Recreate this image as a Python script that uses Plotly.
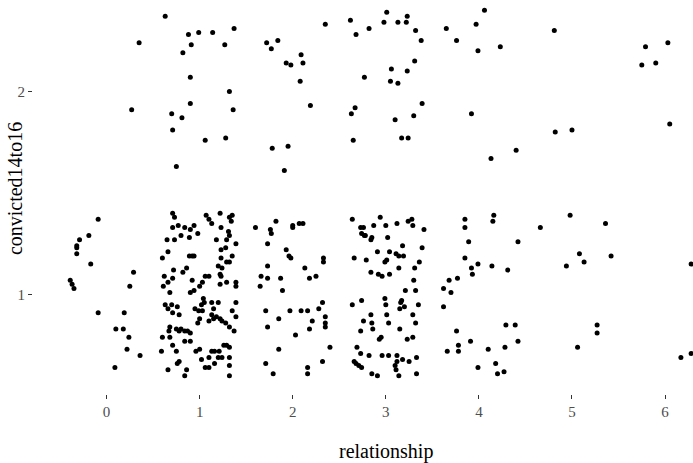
import plotly.graph_objects as go

# (relationship + jitter, convicted14to16 + jitter)
convicted2_points = [
    (0.63, 2.37), (0.35, 2.24), (0.88, 2.28), (0.99, 2.29), (1.14, 2.29), (1.37, 2.31), (0.91, 2.23),
    (1.27, 2.23), (0.82, 2.19), (0.90, 2.07), (1.32, 2.00), (0.27, 1.91), (0.90, 1.94), (1.36, 1.91),
    (0.70, 1.89), (0.81, 1.87), (0.71, 1.81), (1.06, 1.76), (1.28, 1.77), (0.75, 1.63),
    (1.72, 2.24), (1.77, 2.21), (1.84, 2.25), (2.35, 2.33), (2.62, 2.35), (2.68, 2.28), (2.82, 2.31),
    (3.01, 2.39), (2.98, 2.34), (3.13, 2.34), (3.22, 2.34), (3.23, 2.37), (3.32, 2.30), (3.38, 2.25),
    (3.65, 2.31), (3.97, 2.33), (3.76, 2.25), (3.99, 2.20), (2.09, 2.18), (1.93, 2.14), (1.98, 2.13),
    (2.11, 2.14), (2.08, 2.05), (2.77, 2.07), (3.06, 2.11), (3.23, 2.10), (3.31, 2.15), (3.05, 2.05),
    (3.13, 2.04), (2.19, 1.93), (2.67, 1.92), (2.63, 1.89), (3.39, 1.94), (3.30, 1.88), (3.10, 1.86),
    (3.92, 1.89), (1.78, 1.72), (1.95, 1.73), (2.65, 1.76), (3.17, 1.77), (3.24, 1.77), (1.91, 1.61),
    (4.06, 2.40), (4.81, 2.30), (4.23, 2.22), (5.79, 2.22), (6.03, 2.24), (5.75, 2.13), (5.90, 2.14),
    (6.05, 1.84), (4.82, 1.80), (5.00, 1.81), (4.40, 1.71), (4.13, 1.67),
]

rel0_points = [
    (-0.09, 1.37), (-0.19, 1.29), (-0.29, 1.27), (-0.32, 1.24), (-0.32, 1.23), (-0.32, 1.20),
    (-0.17, 1.15), (0.29, 1.11), (0.25, 1.04), (-0.39, 1.07), (-0.37, 1.05), (-0.35, 1.03),
    (-0.09, 0.91), (0.19, 0.91), (0.10, 0.83), (0.18, 0.83), (0.24, 0.79), (0.22, 0.73),
    (0.36, 0.70), (0.09, 0.64),
]

rel1_points = [
    (0.71, 1.40), (0.73, 1.38), (1.07, 1.39), (1.10, 1.37), (1.13, 1.35), (1.22, 1.40), (1.32, 1.38),
    (1.35, 1.39), (1.34, 1.36), (0.77, 1.34), (0.84, 1.33), (0.71, 1.33), (0.90, 1.32), (0.94, 1.34),
    (0.89, 1.28), (0.80, 1.29), (0.98, 1.30), (1.23, 1.33), (1.31, 1.31), (1.32, 1.29), (1.29, 1.27),
    (1.39, 1.25), (0.65, 1.27), (0.73, 1.27), (1.18, 1.27), (0.66, 1.21), (0.60, 1.18), (0.89, 1.19),
    (0.92, 1.19), (0.94, 1.19), (1.28, 1.23), (1.23, 1.22), (1.23, 1.18), (1.35, 1.19), (1.29, 1.16),
    (1.32, 1.16), (1.20, 1.14), (1.24, 1.13), (0.86, 1.13), (0.82, 1.11), (0.72, 1.12), (0.62, 1.09),
    (0.71, 1.08), (0.66, 1.06), (0.61, 1.04), (0.68, 1.01), (0.92, 1.07), (1.06, 1.09), (1.10, 1.09),
    (1.03, 1.06), (1.00, 1.04), (0.94, 1.02), (0.90, 1.01), (1.22, 1.10), (1.23, 1.09), (1.22, 1.05),
    (1.29, 1.06), (1.39, 1.06), (1.39, 1.04), (1.04, 0.98), (1.05, 0.96), (1.02, 0.95), (1.13, 0.96),
    (1.20, 0.96), (0.63, 0.95), (0.70, 0.95), (0.66, 0.93), (0.71, 0.91), (0.78, 0.90), (0.76, 0.94),
    (0.95, 0.93), (0.99, 0.92), (1.03, 0.92), (1.15, 0.93), (1.13, 0.90), (1.35, 0.92), (1.39, 0.96),
    (1.39, 0.89), (1.00, 0.88), (0.98, 0.86), (1.10, 0.87), (1.18, 0.89), (1.15, 0.88), (1.22, 0.88),
    (1.24, 0.87), (1.28, 0.86), (1.32, 0.84), (1.37, 0.82), (0.68, 0.84), (0.67, 0.82), (0.75, 0.83),
    (0.78, 0.82), (0.80, 0.83), (0.87, 0.82), (0.90, 0.81), (0.84, 0.82), (0.60, 0.79), (0.68, 0.79),
    (0.84, 0.77), (0.90, 0.77), (0.71, 0.75), (0.75, 0.72), (0.59, 0.72), (1.00, 0.73), (0.96, 0.72),
    (1.13, 0.72), (1.16, 0.72), (1.21, 0.72), (1.26, 0.75), (1.29, 0.75), (1.32, 0.74), (1.10, 0.69),
    (1.20, 0.69), (1.24, 0.69), (1.32, 0.69), (1.02, 0.68), (0.78, 0.67), (0.76, 0.66), (1.16, 0.66),
    (1.32, 0.65), (0.66, 0.63), (0.86, 0.63), (0.84, 0.60), (1.06, 0.64), (1.10, 0.64), (1.32, 0.60),
]

rel2_points = [
    (1.60, 1.33), (1.82, 1.36), (1.76, 1.32), (1.77, 1.30), (2.00, 1.34), (2.00, 1.33), (2.07, 1.35),
    (2.11, 1.35), (1.73, 1.25), (1.93, 1.22), (1.96, 1.19), (1.98, 1.18), (2.33, 1.18), (2.33, 1.16),
    (1.73, 1.14), (2.13, 1.13), (1.66, 1.09), (1.73, 1.08), (1.87, 1.08), (2.18, 1.08), (2.25, 1.09),
    (1.65, 1.04), (1.89, 1.02), (2.32, 0.96), (1.71, 0.92), (1.97, 0.92), (2.09, 0.92), (2.16, 0.92),
    (2.28, 0.93), (1.85, 0.88), (2.35, 0.89), (2.21, 0.87), (2.35, 0.86), (2.35, 0.84), (1.73, 0.84),
    (2.18, 0.83), (2.03, 0.80), (2.40, 0.74), (1.85, 0.73), (2.32, 0.67), (1.71, 0.66), (2.16, 0.64),
    (1.79, 0.61), (2.16, 0.61),
]

rel3_points = [
    (2.64, 1.37), (2.73, 1.33), (2.76, 1.33), (2.87, 1.34), (2.94, 1.38), (3.00, 1.34), (3.12, 1.35),
    (3.24, 1.36), (3.28, 1.37), (3.29, 1.34), (3.41, 1.32), (2.74, 1.30), (2.77, 1.29), (2.78, 1.29),
    (2.85, 1.28), (2.84, 1.27), (3.02, 1.28), (3.18, 1.24), (3.39, 1.23), (2.91, 1.21), (3.04, 1.21),
    (3.11, 1.20), (3.14, 1.19), (3.19, 1.19), (2.66, 1.18), (2.79, 1.17), (3.01, 1.17), (2.99, 1.16),
    (3.36, 1.16), (3.14, 1.13), (3.31, 1.13), (2.84, 1.11), (2.92, 1.10), (2.96, 1.09), (3.04, 1.10),
    (3.30, 1.07), (3.32, 1.02), (3.21, 1.02), (2.64, 0.95), (2.74, 0.97), (2.99, 0.98), (3.00, 0.95),
    (3.17, 0.97), (3.16, 0.96), (3.20, 0.94), (3.15, 0.93), (3.35, 0.95), (3.29, 0.90), (2.84, 0.90),
    (3.01, 0.90), (2.76, 0.87), (2.85, 0.86), (2.86, 0.83), (3.03, 0.86), (3.32, 0.86), (2.73, 0.82),
    (3.15, 0.83), (2.95, 0.79), (2.93, 0.78), (3.29, 0.79), (3.23, 0.78), (2.69, 0.74), (2.73, 0.71),
    (2.82, 0.70), (2.96, 0.70), (3.03, 0.70), (3.12, 0.70), (3.18, 0.68), (3.25, 0.67), (3.33, 0.69),
    (3.12, 0.67), (3.10, 0.65), (2.66, 0.67), (2.68, 0.66), (2.71, 0.65), (2.74, 0.64), (2.85, 0.61),
    (2.91, 0.60), (3.11, 0.63), (3.14, 0.60), (3.33, 0.61),
]

rel4_points = [
    (4.16, 1.39), (4.15, 1.36), (3.85, 1.37), (3.85, 1.33), (4.66, 1.33), (3.89, 1.26), (4.42, 1.26),
    (3.85, 1.18), (3.99, 1.15), (3.92, 1.13), (4.14, 1.14), (4.31, 1.12), (3.93, 1.10), (3.68, 1.07),
    (3.77, 1.08), (3.62, 1.03), (3.70, 1.01), (3.62, 0.94), (4.29, 0.85), (4.39, 0.85), (3.76, 0.82),
    (3.91, 0.77), (4.42, 0.77), (3.78, 0.75), (3.78, 0.72), (3.66, 0.72), (4.10, 0.73), (4.28, 0.74),
    (4.18, 0.66), (3.99, 0.64), (4.20, 0.61), (4.27, 0.62),
]

rel5_6_points = [
    (4.98, 1.39), (5.36, 1.35), (5.08, 1.20), (5.13, 1.16), (4.94, 1.14), (5.42, 1.19), (6.28, 1.15),
    (5.27, 0.85), (5.27, 0.81), (5.06, 0.74), (6.17, 0.69), (6.28, 0.71),
]

x_ticks = [0, 1, 2, 3, 4, 5, 6]
y_ticks = [1, 2]

all_points = (convicted2_points + rel0_points + rel1_points + rel2_points
              + rel3_points + rel4_points + rel5_6_points)
relationship = [p[0] for p in all_points]
convicted = [p[1] for p in all_points]

fig = go.Figure(go.Scatter(
    x=relationship, y=convicted, mode="markers",
    marker=dict(color="black", size=5, line=dict(width=0)),
    hoverinfo="skip",
))

font_family = "Liberation Serif, Times New Roman, serif"
axis_common = dict(
    showgrid=False, zeroline=False, showline=False,
    ticks="outside", ticklen=4, tickwidth=1, tickcolor="#333333",
    tickfont=dict(family=font_family, size=15, color="#4d4d4d"),
)

fig.update_layout(
    width=693, height=463,
    margin=dict(l=33, r=0, t=0, b=69),
    plot_bgcolor="white", paper_bgcolor="white",
    showlegend=False,
    xaxis=dict(range=[-0.79, 6.30], tickvals=x_ticks, ticktext=[str(v) for v in x_ticks],
               automargin=False, **axis_common),
    yaxis=dict(range=[0.51, 2.45], tickvals=y_ticks, ticktext=[str(v) for v in y_ticks],
               automargin=False, **axis_common),
    annotations=[
        dict(text="relationship", xref="paper", yref="paper", x=0.535, y=0,
             xanchor="center", yanchor="top", yshift=-44, showarrow=False,
             font=dict(family=font_family, size=20, color="black")),
        dict(text="convicted14to16", xref="paper", yref="paper", x=0, y=0.52,
             xanchor="center", yanchor="middle", xshift=-18, textangle=-90, showarrow=False,
             font=dict(family=font_family, size=20, color="black")),
    ],
)

fig.write_html("out.html", config={"displayModeBar": False, "staticPlot": True})

# remove the browser's default page margin so the figure sits at the top-left corner
with open("out.html", encoding="utf-8") as f:
    html = f.read()
html = html.replace("<body>", '<body style="margin:0;padding:0;overflow:hidden">', 1)
html = html.replace("<head>", "<head><style>html,body{margin:0;padding:0;}</style>", 1)
with open("out.html", "w", encoding="utf-8") as f:
    f.write(html)
